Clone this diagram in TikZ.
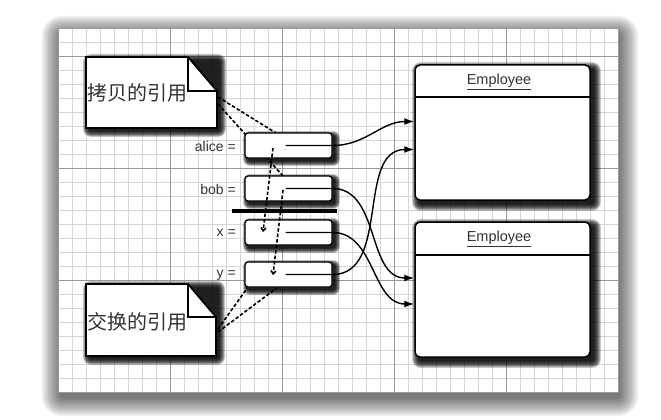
\documentclass[tikz,border=0pt]{standalone}
\usepackage{fontspec}
\setsansfont{Liberation Sans}
\newfontfamily\cjk{Noto Sans CJK SC}
\usetikzlibrary{arrows.meta}
% x1 y1 x2 y2 dx dy spread opacity
\newcommand\softshadow[8]{%
  \foreach \r in {0,...,9}{%
    \pgfmathsetmacro\ee{#7*(9-\r)/9}%
    \pgfmathsetmacro\rr{2+\ee}%
    \fill[black,opacity=#8,rounded corners=\rr pt]
      ({#1+#5-\ee},{#2+#6-\ee}) rectangle ({#3+#5+\ee},{#4+#6+\ee});
  }}
\begin{document}
\begin{tikzpicture}[x=1pt,y=-1pt,
  minorln/.style={draw=black!16,line width=0.6pt},
  majorln/.style={draw=black!40,line width=0.8pt},
  notebox/.style={draw=black,line width=1.8pt,fill=white,line join=miter},
  refbox/.style={draw=black,line width=1.2pt,fill=white,rounded corners=3pt,minimum width=87pt,minimum height=25pt,inner sep=0pt},
  empbox/.style={draw=black,line width=1.5pt,fill=white,rounded corners=5pt,minimum width=175pt,minimum height=135pt,inner sep=0pt},
  lbl/.style={font=\sffamily\fontsize{14}{16}\selectfont,anchor=east,inner sep=0pt,text=black!80},
  emptxt/.style={font=\sffamily\fontsize{14.5}{16}\selectfont,inner sep=0pt,text=black!80},
  link/.style={line width=1.4pt,-{Latex[length=10pt,width=7pt]}},
  dashln/.style={line width=1.6pt,dash pattern=on 3.5pt off 2pt},
  darr/.style={dashln,-{Straight Barb[length=3pt,width=5pt]}},
  notetxt/.style={font=\cjk\fontsize{20}{22}\selectfont,text=black!80,inner sep=0pt,anchor=west},
]
\useasboundingbox (0,0) rectangle (661,420);
% paper with shadow
\softshadow{58}{28}{618}{392}{2}{6}{18}{0.07}
\fill[white] (58,28) rectangle (618,392);
\foreach \i in {0,...,40} \draw[minorln] ({58+14*\i},28) -- ({58+14*\i},392);
\foreach \j in {0,...,26} \draw[minorln] (58,{28+14*\j}) -- (618,{28+14*\j});
\foreach \i in {1,...,4} \draw[majorln] ({58+112*\i},28) -- ({58+112*\i},392);
\foreach \j in {0,...,2} \draw[majorln] (58,{56+112*\j}) -- (618,{56+112*\j});
\draw[majorln] (58,28) rectangle (618,392);

% shadows of elements
\softshadow{86}{57}{217}{128}{3}{3}{6}{0.18}
\softshadow{86}{284}{216}{356}{3}{3}{6}{0.18}
\softshadow{245}{133}{332}{158}{3}{3}{5}{0.18}
\softshadow{245}{176}{332}{201}{3}{3}{5}{0.18}
\softshadow{245}{220}{332}{245}{3}{3}{5}{0.18}
\softshadow{245}{262}{332}{287}{3}{3}{5}{0.18}
\softshadow{415}{65}{590}{200}{4}{4}{7}{0.18}
\softshadow{415}{222}{590}{357}{4}{4}{7}{0.18}

% notes
\draw[notebox] (86,57) -- (188,57) -- (217,91) -- (217,128) -- (86,128) -- cycle;
\draw[line width=1.8pt] (188,57) -- (188,91) -- (217,91);
\node[notetxt] (note1) at (87,93) {拷贝的引用};
\draw[notebox] (86,284) -- (188,284) -- (216,317) -- (216,356) -- (86,356) -- cycle;
\draw[line width=1.8pt] (188,284) -- (188,317) -- (216,317);
\node[notetxt] (note2) at (87,322) {交换的引用};

\coordinate (n1a) at (218,97);
\coordinate (n1b) at (218,104);
\coordinate (n2a) at (218,329);
\coordinate (n2b) at (218,332);
\coordinate (aTop) at (276,133);
\coordinate (bTop) at (283,176);
\coordinate (yBl) at (248,287);
\coordinate (yBr) at (278,287);
\draw[dashln] (n1a) -- (aTop);
\draw[dashln] (n1b) -- (bTop);
\draw[dashln] (n2a) -- (yBl);
\draw[dashln] (n2b) -- (yBr);

% reference boxes
\node[refbox] (alice) at (288.5,145.5) {};
\node[refbox] (bob) at (288.5,188.5) {};
\node[refbox] (x) at (288.5,232.5) {};
\node[refbox] (y) at (288.5,274.5) {};
\node[lbl] (la) at (236,146) {alice =};
\node[lbl] (lb) at (236,189) {bob =};
\node[lbl] (lx) at (236,233) {x =};
\node[lbl] (ly) at (236,275) {y =};
\draw[line width=3.2pt] (232,211) -- (337,211);

% employee boxes
\node[empbox] (emp1) at (502.5,132.5) {};
\node[empbox] (emp2) at (502.5,289.5) {};
\draw[line width=1.1pt] (415,97) -- (590,97);
\draw[line width=1.1pt] (415,255) -- (590,255);
\node[emptxt] (e1t) at (499,82) {\underline{Employee}};
\node[emptxt] (e2t) at (499,239) {\underline{Employee}};

% solid links
\coordinate (aS) at ([xshift=-3pt]alice.center);
\coordinate (bS) at ([xshift=-3pt]bob.center);
\coordinate (xS) at ([xshift=-3pt]x.center);
\coordinate (yS) at ([xshift=-3pt]y.center);
\coordinate (t1) at ([yshift=11pt]emp1.west);
\coordinate (t2) at ([yshift=-17pt]emp1.west);
\coordinate (t3) at ([yshift=11.5pt]emp2.west);
\coordinate (t4) at ([yshift=-14.5pt]emp2.west);
\draw[link] (aS) -- (alice.east) to[out=0,in=180] (t1);
\draw[link] (bS) -- (bob.east) to[out=0,in=180] (t3);
\draw[link] (xS) -- (x.east) to[out=0,in=180] (t4);
\draw[link] (yS) -- (y.east) to[out=0,in=180] (t2);

% dashed copy arrows
\coordinate (aD) at (273,148);
\coordinate (xD) at (263,232);
\coordinate (bD) at (283,190);
\coordinate (yD) at (273,275);
\draw[darr] (aD) -- (xD);
\draw[darr] (bD) -- (yD);
\end{tikzpicture}
\end{document}
